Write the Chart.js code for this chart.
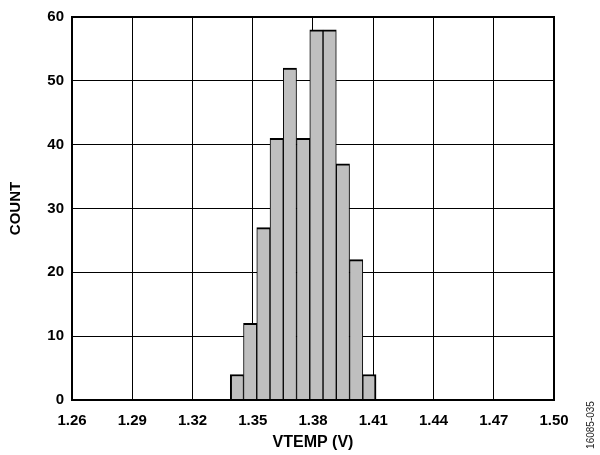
<!DOCTYPE html>
<html>
<head>
<meta charset="utf-8">
<script src="https://cdn.jsdelivr.net/npm/chart.js@4/dist/chart.umd.min.js"></script>
<style>
    html, body { margin: 0; padding: 0; background: #fff; }
    #wrap { width: 600px; height: 455px; position: relative; }
</style>
</head>
<body>
<div id="wrap"><canvas id="histogram-chart" width="600" height="455"></canvas></div>
<script>
// 直方图数据
const binCenters = [1.3421, 1.3487, 1.3553, 1.3619, 1.3685, 1.3751, 1.3817, 1.3883, 1.3949, 1.4015, 1.4081];
const counts = [4, 12, 27, 41, 52, 41, 58, 58, 37, 22, 4];
const xTicks = [1.26, 1.29, 1.32, 1.35, 1.38, 1.41, 1.44, 1.47, 1.50];
const yTicks = [0, 10, 20, 30, 40, 50, 60];
const figureId = '16085-035';

const fontFamily = 'Arial, "Liberation Sans", Helvetica, sans-serif';

// 外框和侧边编号
const framePlugin = {
    id: 'frame',
    afterDraw(chart) {
        const ctx = chart.ctx;
        const a = chart.chartArea;
        ctx.save();
        ctx.strokeStyle = '#000';
        ctx.lineWidth = 2;
        ctx.strokeRect(a.left, a.top, a.right - a.left, a.bottom - a.top);
        ctx.translate(591, 425);
        ctx.rotate(-Math.PI / 2);
        ctx.fillStyle = '#222';
        ctx.font = '10px ' + fontFamily;
        ctx.textAlign = 'center';
        ctx.textBaseline = 'middle';
        ctx.fillText(figureId, 0, 0);
        ctx.restore();
    }
};

const data = {
    datasets: [{
        data: binCenters.map((x, i) => ({ x: x, y: counts[i] })),
        backgroundColor: '#bfbfbf',
        borderColor: '#000',
        borderWidth: function (context) {
            const i = context.dataIndex;
            return {
                top: 2,
                bottom: 0,
                left: i === 0 ? 2 : 1,
                right: i === counts.length - 1 ? 2 : 1
            };
        },
        borderSkipped: false,
        barPercentage: 1,
        categoryPercentage: 1
    }]
};

const options = {
    responsive: false,
    animation: false,
    layout: {
        padding: { left: 0, right: 46, top: 13, bottom: 0 }
    },
    plugins: {
        legend: { display: false },
        tooltip: { enabled: false }
    },
    scales: {
        x: {
            type: 'linear',
            min: 1.26,
            max: 1.50,
            offset: false,
            afterBuildTicks: function (scale) {
                scale.ticks = xTicks.map(v => ({ value: v }));
            },
            afterFit: function (scale) {
                scale.height = 55;
            },
            grid: {
                color: '#000',
                lineWidth: 1,
                drawTicks: false,
                offset: false
            },
            border: { display: false },
            ticks: {
                color: '#000',
                padding: 12,
                maxRotation: 0,
                autoSkip: false,
                font: { family: fontFamily, size: 15, weight: 'bold' },
                callback: v => v.toFixed(2)
            },
            title: {
                display: true,
                text: 'VTEMP (V)',
                color: '#000',
                padding: { top: 0, bottom: 3 },
                font: { family: fontFamily, size: 16, weight: 'bold' }
            }
        },
        y: {
            min: 0,
            max: 60,
            afterBuildTicks: function (scale) {
                scale.ticks = yTicks.map(v => ({ value: v }));
            },
            afterFit: function (scale) {
                scale.width = 72;
            },
            grid: {
                color: '#000',
                lineWidth: 1,
                drawTicks: false
            },
            border: { display: false },
            ticks: {
                color: '#000',
                padding: 8,
                font: { family: fontFamily, size: 15, weight: 'bold' }
            },
            title: {
                display: true,
                text: 'COUNT',
                color: '#000',
                padding: { top: 7, bottom: 0 },
                font: { family: fontFamily, size: 15, weight: 'bold' }
            }
        }
    }
};

window.histogramChart = new Chart(document.getElementById('histogram-chart'), {
    type: 'bar',
    data: data,
    options: options,
    plugins: [framePlugin]
});
</script>
</body>
</html>
